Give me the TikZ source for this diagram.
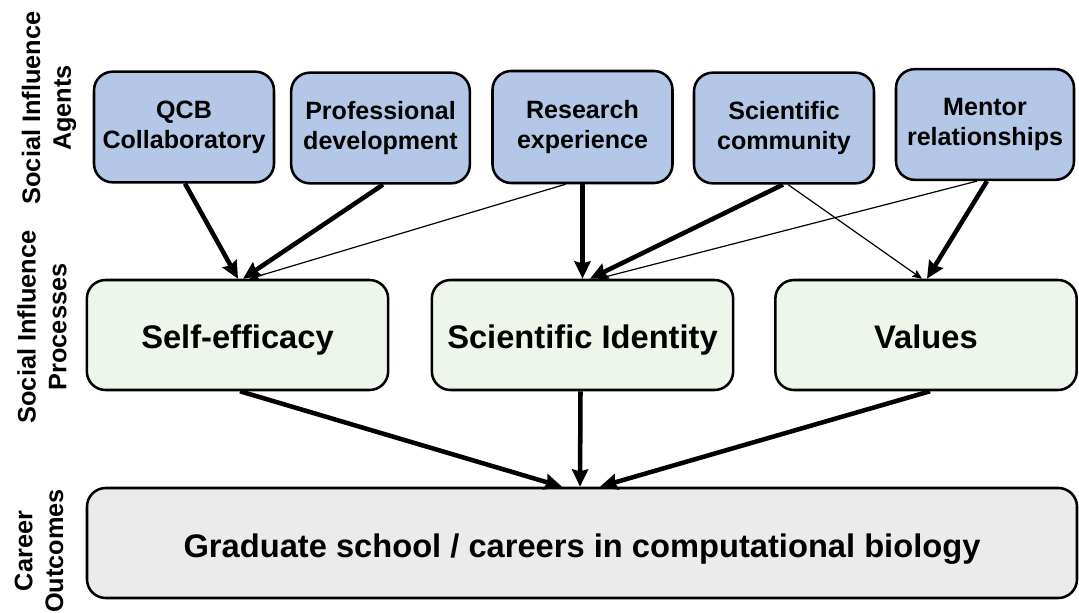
\documentclass[tikz,border=0pt]{standalone}
\usepackage{fontspec}
\setmainfont{Liberation Sans}
\usetikzlibrary{arrows.meta,calc}
\definecolor{agentfill}{HTML}{B4C7E7}
\definecolor{procfill}{HTML}{EEF6EB}
\definecolor{outfill}{HTML}{EBEBEB}
\begin{document}
\begin{tikzpicture}[x=0.75pt,y=-0.75pt,
  box/.style={draw=black, line width=1.9pt, rounded corners=14pt, align=center, inner sep=0pt},
  agent/.style={box, fill=agentfill, minimum width=135pt, minimum height=83pt, font=\fontsize{18.8}{22.5}\selectfont\bfseries},
  proc/.style={box, fill=procfill, minimum width=226pt, minimum height=82.5pt, text height=21pt, text depth=0pt, font=\fontsize{24.5}{29}\selectfont\bfseries},
  outc/.style={box, fill=outfill, minimum width=742.5pt, minimum height=82.5pt, text height=21pt, text depth=0pt, font=\fontsize{24.5}{29}\selectfont\bfseries},
  lbl/.style={rotate=90, align=center, inner sep=0pt, font=\fontsize{19}{23}\selectfont\bfseries},
  strong/.style={line width=3.4pt, -{Stealth[length=13pt,width=12pt,inset=1.5pt]}},
  weak/.style={line width=0.9pt, -{Stealth[length=7pt,width=6pt,inset=1pt]}},
]
\useasboundingbox (0,0) rectangle (1079,613);

\node[agent] (qcb) at (184,127) {QCB\\Collaboratory};
\node[agent, minimum width=134pt] (prof) at (380.5,128) {Professional\\development};
\node[agent, minimum height=84pt] (res) at (582.5,127) {Research\\experience};
\node[agent] (sci) at (784,128) {Scientific\\community};
\node[agent, minimum width=133.5pt] (men) at (985,124.5) {Mentor\\relationships};

\node[proc] (se) at (237.5,335) {Self-efficacy};
\node[proc] (si) at (582.5,335) {Scientific Identity};
\node[proc] (va) at (926,335) {Values};
\node[outc] (out) at (582,543) {Graduate school / careers in computational biology};

\node[lbl] (lagents) at (49,108) {Social Influence\\Agents};
\node[lbl] (lproc) at (42,327) {Social Influence\\Processes};
\node[lbl] (lcar) at (39,551) {Career\\Outcomes};

\draw[weak] ($(res.south)+(-17,0)$) -- ($(se.north)+(12,0)$);
\draw[weak] ($(sci.south)+(4,0)$) -- ($(va.north)+(-4,0)$);
\draw[weak] ($(men.south)+(-8,0)$) -- ($(si.north)+(15.5,0)$);
\draw[strong] ($(qcb.south)+(1,0)$) -- ($(se.north)+(0.5,0)$);
\draw[strong] ($(prof.south)+(2.5,0)$) -- ($(se.north)+(5.5,0)$);
\draw[strong] (res.south) -- (si.north);
\draw[strong] ($(sci.south)+(-1,0)$) -- ($(si.north)+(7.5,0)$);
\draw[strong] ($(men.south)+(2,0)$) -- ($(va.north)+(1,0)$);
\draw[strong] ($(se.south)+(2.5,0)$) -- ($(out.north)+(-20,0)$);
\draw[strong] ($(si.south)+(-2,0)$) -- ($(out.north)+(-2,0)$);
\draw[strong] ($(va.south)+(4,0)$) -- ($(out.north)+(18,0)$);
\end{tikzpicture}
\end{document}
